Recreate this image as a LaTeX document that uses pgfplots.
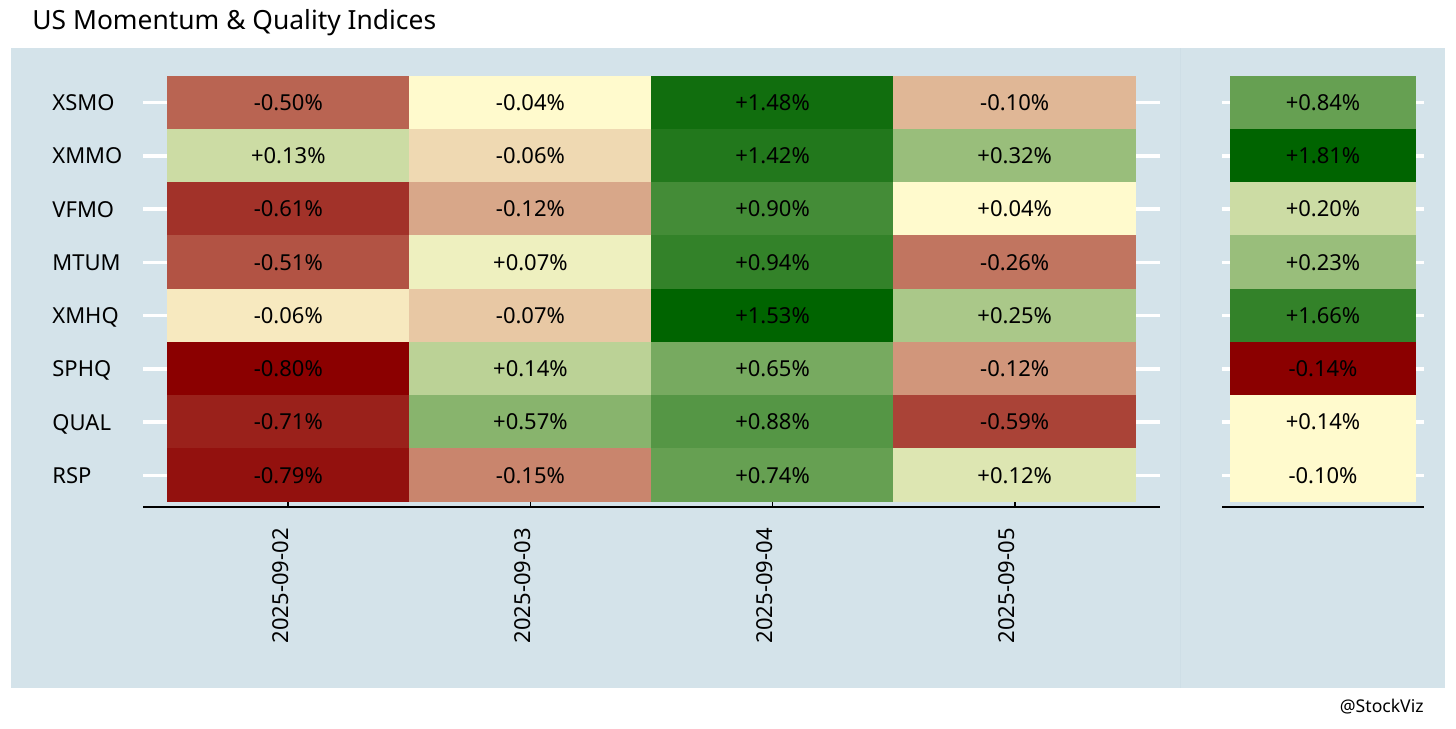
\documentclass[border=0pt]{standalone}
\usepackage{fontspec}
\setmainfont{Noto Sans}
\usepackage{pgfplots}
\pgfplotsset{compat=1.18}
\usepackage{pgfplotstable}

\definecolor{panelbg}{RGB}{212,227,234}
\definecolor{divider}{RGB}{206,222,230}

% x = day index, y = row index (RSP=0 ... XSMO=7), m = colour score, label = value in %
\pgfplotstableread{
x y m label
0 7 -0.6000 -0.50
1 7  0.0000 -0.04
2 7  0.9333 +1.48
3 7 -0.2667 -0.10
0 6  0.2000 +0.13
1 6 -0.1333 -0.06
2 6  0.8667 +1.42
3 6  0.4000 +0.32
0 5 -0.8000 -0.61
1 5 -0.3333 -0.12
2 5  0.7333 +0.90
3 5  0.0000 +0.04
0 4 -0.6667 -0.51
1 4  0.0667 +0.07
2 4  0.8000 +0.94
3 4 -0.5333 -0.26
0 3 -0.0667 -0.06
1 3 -0.2000 -0.07
2 3  1.0000 +1.53
3 3  0.3333 +0.25
0 2 -1.0000 -0.80
1 2  0.2667 +0.14
2 2  0.5333 +0.65
3 2 -0.4000 -0.12
0 1 -0.8667 -0.71
1 1  0.4667 +0.57
2 1  0.6667 +0.88
3 1 -0.7333 -0.59
0 0 -0.9333 -0.79
1 0 -0.4667 -0.15
2 0  0.6000 +0.74
3 0  0.1333 +0.12
}\leftdata

\pgfplotstableread{
x y m label
0 7  0.6 +0.84
0 6  1.0 +1.81
0 5  0.2 +0.20
0 4  0.4 +0.23
0 3  0.8 +1.66
0 2 -1.0 -0.14
0 1  0.0 +0.14
0 0  0.0 -0.10
}\rightdata

\pgfdeclareplotmark{cellL}{\pgfpathrectanglecorners{\pgfqpoint{-60.65pt}{-13.45pt}}{\pgfqpoint{60.65pt}{13.45pt}}\pgfusepathqfill}
\pgfdeclareplotmark{cellR}{\pgfpathrectanglecorners{\pgfqpoint{-46.35pt}{-13.45pt}}{\pgfqpoint{46.35pt}{13.45pt}}\pgfusepathqfill}

\pgfplotsset{
  hm/.style={
    scale only axis, height=218pt,
    enlargelimits=false,
    ymin=-0.594, ymax=7.594,
    ytick={0,...,7},
    axis x line*=bottom, axis y line*=left,
    y axis line style={draw=none},
    x axis line style={black, line width=1.3pt},
    ymajorgrids, grid style={white, line width=1.7pt},
    major tick length=0pt,
    ytick style={draw=none}, xtick style={draw=none},
    colormap={rg}{rgb255=(139,0,0) rgb255=(255,250,205) rgb255=(0,100,0)},
    point meta min=-1, point meta max=1,
    tick label style={font=\fontsize{11}{13}\selectfont, text=black},
    /pgf/number format/assume math mode=true,
    clip=false,
  },
  cells/.style={scatter, only marks, mark=#1,
    scatter/use mapped color={draw=none, fill=mapped color},
    point meta=\thisrow{m}},
  vals/.style={only marks, mark=none, draw=none,
    point meta=explicit symbolic,
    nodes near coords={\pgfplotspointmeta\%},
    nodes near coords align=center,
    every node near coord/.append style={font=\fontsize{11}{13}\selectfont, text=black, anchor=center, inner sep=0pt}},
}

\begin{document}
\begin{tikzpicture}
\fill[white] (0,0) rectangle (728pt,364pt);
\path[use as bounding box] (0,0) rectangle (728pt,364pt);
\fill[panelbg] (5.5pt,20pt) rectangle (722.5pt,340pt);
\draw[divider, line width=0.5pt] (590pt,20pt) -- (590pt,340pt);

\begin{axis}[hm, at={(71.5pt,110.5pt)}, anchor=south west, width=508.5pt,
  xmin=-0.6, xmax=3.6, xtick={0,1,2,3},
  xticklabels={2025-09-02,2025-09-03,2025-09-04,2025-09-05},
  xticklabel style={yshift=-10.5pt, rotate=90, anchor=base east, inner sep=0pt},
  yticklabels={RSP,QUAL,SPHQ,XMHQ,MTUM,VFMO,XMMO,XSMO},
  yticklabel style={anchor=west, xshift=-45.5pt, inner sep=0pt, text depth=0pt},
]
\addplot[cells=cellL] table[x=x,y=y]{\leftdata};
\addplot[vals] table[x=x,y=y,meta=label]{\leftdata};
\pgfplotsinvokeforeach{0,1,2,3}{
  \draw[black, line width=0.85pt] (axis cs:#1,-0.594) -- ([yshift=5pt]axis cs:#1,-0.594);
}
\end{axis}

\begin{axis}[hm, at={(611pt,110.5pt)}, anchor=south west, width=101pt,
  xmin=-0.546, xmax=0.546, xtick=\empty,
  yticklabels={,,,,,,,},
]
\addplot[cells=cellR] table[x=x,y=y]{\rightdata};
\addplot[vals] table[x=x,y=y,meta=label]{\rightdata};
\end{axis}

\node[anchor=base west, font=\fontsize{13.2}{15}\selectfont, inner sep=0pt] at (16pt,349pt) {US Momentum \& Quality Indices};
\node[anchor=base east, font=\fontsize{8.8}{10}\selectfont, inner sep=0pt] at (712pt,7.5pt) {@StockViz};
\end{tikzpicture}
\end{document}
